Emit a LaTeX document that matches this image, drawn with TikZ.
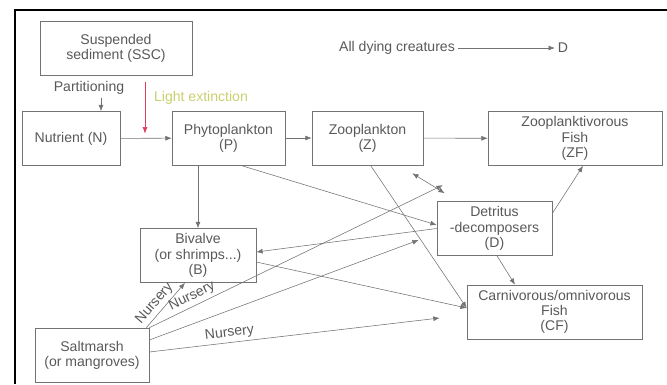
\documentclass[tikz,border=0pt]{standalone}
\usepackage{fontspec}
\setmainfont{Liberation Sans}
\usepackage{xcolor}
\usetikzlibrary{arrows.meta,calc,positioning}

\definecolor{linegray}{gray}{0.45}
\definecolor{textgray}{gray}{0.35}
\definecolor{lightred}{RGB}{225,60,90}
\definecolor{lightgreen}{RGB}{200,208,110}

\tikzset{
  box/.style={draw=linegray, text=textgray, align=center, minimum height=1.35cm, inner sep=2pt},
  link/.style={draw=linegray, -{Latex[length=4.5pt,width=3.5pt]}},
  twoway/.style={draw=linegray, {Latex[length=4.5pt,width=3.5pt]}-{Latex[length=4.5pt,width=3.5pt]}},
  lbl/.style={text=textgray, inner sep=2pt}
}

\begin{document}
\begin{tikzpicture}[x=0.025cm,y=-0.025cm,font=\fontsize{10}{10.8}\selectfont]
\useasboundingbox (0,0) rectangle (667,384);

% Frame
\draw[line width=1.2pt] (667,10) -- (15,10) -- (15,384);

% Compartments
\node[box, minimum width=3.8cm] (SSC) at (116,48) {Suspended\\sediment (SSC)};
\node[box, minimum width=2.45cm] (N) at (71,138.5) {Nutrient (N)};
\node[box, minimum width=2.825cm] (P) at (228.5,138) {Phytoplankton\\(P)};
\node[box, minimum width=2.775cm] (Z) at (367.5,138) {Zooplankton\\(Z)};
\node[box, minimum width=4.35cm] (ZF) at (575,138.5) {Zooplanktivorous\\Fish\\(ZF)};
\node[box, minimum width=2.875cm] (D) at (494.5,228.5) {Detritus\\-decomposers\\(D)};
\node[box, minimum width=4.375cm] (CF) at (554.5,312) {Carnivorous/omnivorous\\Fish\\(CF)};
\node[box, minimum width=2.9cm] (B) at (198,255.5) {Bivalve\\(or shrimps...)\\(B)};
\node[box, minimum width=2.85cm] (S) at (92,355) {Saltmarsh\\(or mangroves)};

% Free labels
\node[lbl] (part) at (89,88) {Partitioning};
\node[lbl, anchor=west, text=lightgreen] (light) at (151,98) {Light extinction};
\node[lbl] (dying) at (397,48) {All dying creatures};
\node[lbl] (dlab) at (563,48) {D};

% Free ends
\coordinate (px) at ($(N.north)+(30,0)$);
\coordinate (lx) at (145,82);
\coordinate (dtop) at ($(D.north west)+(6,-16)$);
\coordinate (dleft) at ($(D.west)+(-18,11.5)$);
\coordinate (cfleft) at ($(CF.west)+(-27,6)$);

% Flows
\draw[link] (part.south -| px) -- (px);
\draw[draw=lightred, -{Latex[length=4.5pt,width=3.5pt]}] (lx) -- ($(lx |- N.east)+(0,-5)$);
\draw[link] (dying) -- (dlab);
\draw[link] (N) -- (P);
\draw[link] (P) -- (Z);
\draw[link] (Z) -- (ZF);
\draw[link] (B.north |- P.south) -- (B.north);
\draw[link] ($(P.south)+(12,0)$) -- ($(D.west)+(0,-3.5)$);
\draw[link] ($(Z.south)+(3,0)$) -- ($(CF.west)+(0,-4)$);
\draw[link] ($(B.east)+(0,6.5)$) -- ($(CF.west)+(0,-4)$);
\draw[link] (D.west) -- ($(B.east)+(0,-3.5)$);
\draw[twoway] ($(Z.south east)+(-11,8)$) -- ($(D.north west)+(8,-8)$);
\draw[link] ($(D.east)+(0,-15)$) -- ($(ZF.south)+(8,0)$);
\draw[link] ($(D.south)+(2.5,0)$) -- ($(CF.north)+(-39.5,0)$);

% Nursery links
\draw[link] ($(S.north east)+(-3,0)$) -- node[lbl, pos=0.4, sloped, above] {Nursery} ($(B.south)+(-13,0)$);
\draw[link] (S.north east) -- node[lbl, pos=0.16, sloped, above] {Nursery} (dtop);
\draw[link] ($(S.east)+(0,-15)$) -- (dleft);
\draw[link] ($(S.east)+(0,-3)$) -- node[lbl, pos=0.28, sloped, above] {Nursery} (cfleft);

\end{tikzpicture}
\end{document}
